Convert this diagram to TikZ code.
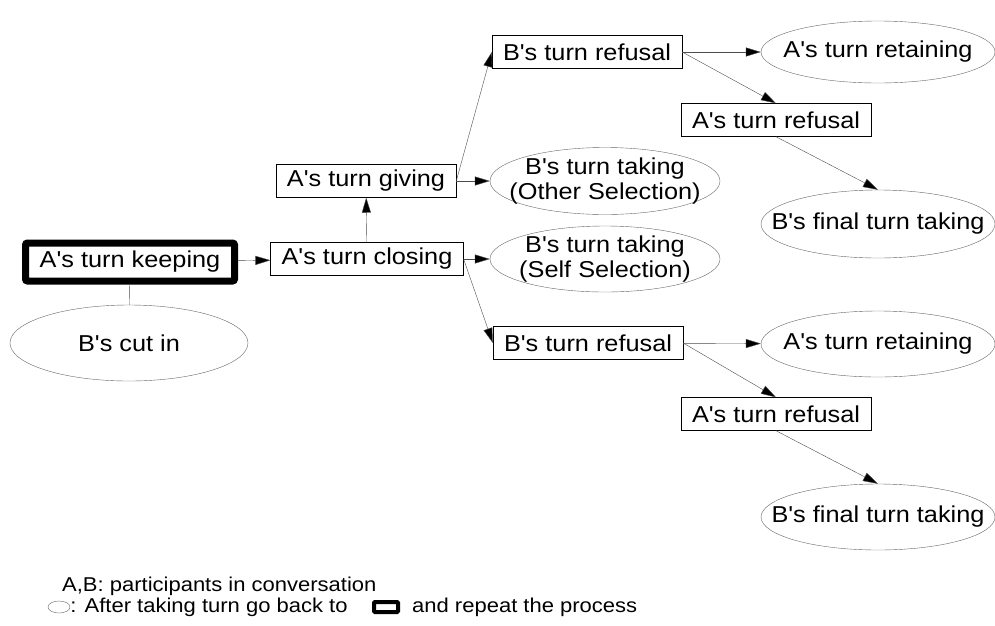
\documentclass[tikz,border=0pt]{standalone}
\usepackage{fontspec}
\newfontfamily\diafont{Liberation Sans}[FakeStretch=1.1]
\usetikzlibrary{shapes,arrows.meta}

\begin{document}
\begin{tikzpicture}[x=1pt,y=-1pt]
        \tikzstyle{every node}=[font=\diafont\fontsize{23}{25}\selectfont]
        \tikzstyle{turnbox}=[rectangle,draw,inner xsep=11pt,inner ysep=0pt,minimum height=33pt]
        \tikzstyle{keepbox}=[rectangle,draw,line width=7pt,rounded corners=2pt,minimum width=209pt,minimum height=38pt]
        \tikzstyle{turnell}=[ellipse,draw=black!60,align=center,inner xsep=-24pt,inner ysep=-6pt,minimum width=234pt,minimum height=66pt]
        \tikzstyle{link}=[draw=black!70,-{Triangle[length=15pt,width=9pt,fill=black]}]
        \tikzstyle{legfont}=[font=\diafont\fontsize{20}{21}\selectfont,inner sep=0pt]
        \useasboundingbox (0,0) rectangle (995,625);
        \node[keepbox] (keep) at (130,262) {A's turn keeping};
        \node[turnell,minimum width=238pt,minimum height=76pt] (cutin) at (129,343) {B's cut in};
        \node[turnbox] (closing) at (367,259) {A's turn closing};
        \node[turnbox] (giving) at (366,181) {A's turn giving};
        \node[turnell,minimum width=230pt,minimum height=67pt] (othersel) at (605,181) {B's turn taking\\(Other Selection)};
        \node[turnell,minimum width=230pt] (selfsel) at (605,259) {B's turn taking\\(Self Selection)};
        \node[turnbox] (rt) at (587,52) {B's turn refusal};
        \node[turnell,minimum height=62pt] (ret1) at (878,52) {A's turn retaining};
        \node[turnbox] (ar1) at (776,120) {A's turn refusal};
        \node[turnell,minimum height=68pt] (fin1) at (878,224) {B's final turn taking};
        \node[turnbox] (rb) at (588,343) {B's turn refusal};
        \node[turnell] (ret2) at (878,344) {A's turn retaining};
        \node[turnbox] (ar2) at (776,414) {A's turn refusal};
        \node[turnell] (fin2) at (878,517) {B's final turn taking};
        \draw[link] (keep) -- (closing);
        \draw[black!70] (keep) -- (cutin);
        \draw[link] (closing) -- (giving);
        \draw[link] (giving.east) -- (othersel.west);
        \draw[link] (giving.east) -- (rt.west);
        \draw[link] (closing.east) -- (selfsel.west);
        \draw[link] (closing.east) -- (rb.west);
        \draw[link] (rt) -- (ret1);
        \draw[link] (rt.east) -- (ar1.north);
        \draw[link] (ar1.south) -- (fin1.north);
        \draw[link] (rb) -- (ret2);
        \draw[link] (rb.east) -- (ar2.north);
        \draw[link] (ar2.south) -- (fin2.north);
        \node[legfont,anchor=west] (who) at (62,586) {A,B: participants in conversation};
        \node[ellipse,draw=black!60,inner sep=0pt,minimum width=22pt,minimum height=12pt] (legell) at (59,607) {};
        \node[legfont,anchor=west] (legtxt) at (legell.east) {: After taking turn go back to};
        \node[rectangle,draw,line width=4pt,rounded corners=1pt,minimum width=24pt,minimum height=10pt,inner sep=0pt] (legbox) at (386,607) {};
        \node[legfont,anchor=west] (legend) at (412,607) {and repeat the process};
    ;\end{tikzpicture}
\end{document}
